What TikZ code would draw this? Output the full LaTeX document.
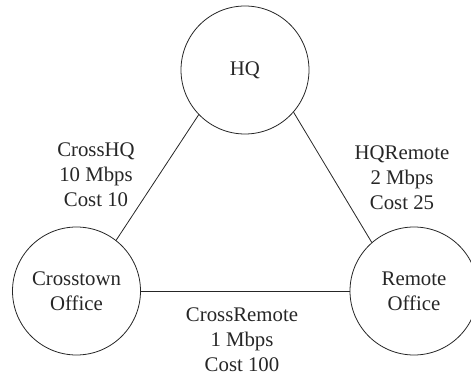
\documentclass[tikz,border=0pt]{standalone}
\usepackage{fontspec}
\setmainfont{Liberation Serif}
\usepackage{tikz}
\usetikzlibrary{positioning}

\begin{document}
\begin{tikzpicture}[x=1pt, y=1pt, line join=round, line cap=round]
\def\r{64pt}
\tikzset{
  site/.style={draw=black!85, line width=0.8pt, circle, minimum size=2*\r, inner sep=0pt, align=center, text=black!85},
  lbl/.style={align=center, text=black!85}
}
\fontsize{20.8}{25}\selectfont
\useasboundingbox (0,0) rectangle (471,375);
\coordinate (top) at (245,305);
\coordinate (left) at (76.5,84);
\coordinate (right) at (414,84);
\node[site] (HQ) at (top) {HQ};
\node[site] (CT) at (left) {Crosstown\\Office};
\node[site] (RO) at (right) {Remote\\Office};
\draw[line width=0.8pt, black!85] (HQ.224)--(CT.52);
\draw[line width=0.8pt, black!85] (HQ.319)--(RO.131);
\draw[line width=0.8pt, black!85] (CT.east)--(RO.west);
\node[lbl] (chq) at (96,200) {CrossHQ\\10 Mbps\\Cost 10};
\node[lbl] (hqr) at (402,197) {HQRemote\\2 Mbps\\Cost 25};
\node[lbl] (cr) at (242,35) {CrossRemote\\1 Mbps\\Cost 100};
\end{tikzpicture}
\end{document}
